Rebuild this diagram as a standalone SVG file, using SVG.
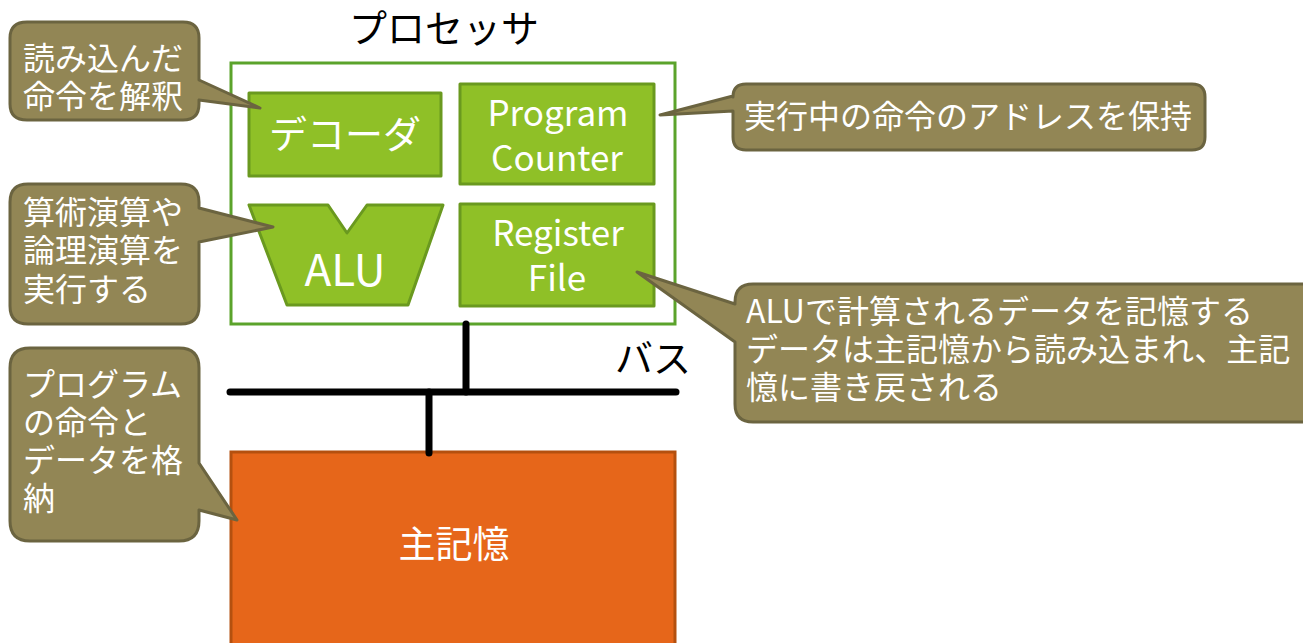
<svg xmlns="http://www.w3.org/2000/svg" width="1303" height="643" viewBox="0 0 1303 643">
<style>
text{font-family:"Noto Sans CJK JP","Noto Sans",sans-serif;}
.unit{fill:#8fc027;stroke:#6a991f;stroke-width:3;stroke-linejoin:round;}
.wt{fill:#ffffff;}
.call{fill:#928655;stroke:#6b6440;stroke-width:3;stroke-linejoin:round;}
.ct{fill:#ffffff;font-size:32px;}
.bus{stroke:#000;stroke-width:7;stroke-linecap:round;fill:none;}
</style>
<rect width="1303" height="643" fill="#ffffff"/>
<g id="processor">
<rect x="231" y="63" width="444" height="261" fill="#ffffff" stroke="#5ba32b" stroke-width="3"/>
<text x="444" y="42" text-anchor="middle" font-size="38" fill="#000">プロセッサ</text>
</g>
<g id="decoder">
<rect class="unit" x="249" y="93" width="192" height="83"/>
<text class="wt" x="345" y="148" text-anchor="middle" font-size="38">デコーダ</text>
</g>
<g id="pc">
<rect class="unit" x="460" y="84" width="194" height="100"/>
<text class="wt" x="558" y="126" text-anchor="middle" font-size="35">Program</text>
<text class="wt" x="557" y="171" text-anchor="middle" font-size="35">Counter</text>
</g>
<g id="alu">
<polygon class="unit" points="249,205 328,205 347,233 367,205 443,205 408,305 287,305"/>
<text class="wt" x="345" y="286" text-anchor="middle" font-size="44">ALU</text>
</g>
<g id="regfile">
<rect class="unit" x="460" y="204" width="194" height="102"/>
<text class="wt" x="558" y="246" text-anchor="middle" font-size="35">Register</text>
<text class="wt" x="557" y="291" text-anchor="middle" font-size="35">File</text>
</g>
<g id="memory">
<rect x="231" y="452" width="444" height="200" fill="#e6661a" stroke="#b4500f" stroke-width="3"/>
<text class="wt" x="454" y="558" text-anchor="middle" font-size="37">主記憶</text>
</g>
<g id="bus-label">
<text x="653" y="372" text-anchor="middle" font-size="38" fill="#000">バス</text>
</g>
<g id="connectors">
<line class="bus" x1="230" y1="392" x2="676" y2="392"/>
<line class="bus" x1="466" y1="392" x2="466" y2="324"/>
<line class="bus" x1="429" y1="392" x2="429" y2="453"/>
</g>
<g id="callout-decoder">
<path class="call" d="M27,22 H183 Q199,22 199,38 V80 L260,108 L199,100 V104 Q199,120 183,120 H27 Q10,120 10,104 V38 Q10,22 27,22 Z"/>
<text class="ct" x="23" y="70">読み込んだ</text>
<text class="ct" x="23" y="108">命令を解釈</text>
</g>
<g id="callout-pc">
<path class="call" d="M746,84 H1192 Q1205,84 1205,97 V137 Q1205,150 1192,150 H746 Q733,150 733,137 V111 L660,115 L733,96 V97 Q733,84 746,84 Z"/>
<text class="ct" x="744" y="128">実行中の命令のアドレスを保持</text>
</g>
<g id="callout-alu">
<path class="call" d="M28,184 H181 Q199,184 199,202 V208 L273,227 L199,242 V306 Q199,324 181,324 H28 Q10,324 10,306 V202 Q10,184 28,184 Z"/>
<text class="ct" x="23" y="224">算術演算や</text>
<text class="ct" x="23" y="262">論理演算を</text>
<text class="ct" x="23" y="301">実行する</text>
</g>
<g id="callout-reg">
<path class="call" d="M753,284 H1310 V422 H753 Q735,422 735,404 V342 L637,272 L735,304 V302 Q735,284 753,284 Z"/>
<text class="ct" x="746" y="323">ALUで計算されるデータを記憶する</text>
<text class="ct" x="746" y="361">データは主記憶から読み込まれ、主記</text>
<text class="ct" x="746" y="399">憶に書き戻される</text>
</g>
<g id="callout-mem">
<path class="call" d="M30,348 H179 Q199,348 199,368 V463 L237,520 L199,510 V521 Q199,541 179,541 H30 Q10,541 10,521 V368 Q10,348 30,348 Z"/>
<text class="ct" x="23" y="396">プログラム</text>
<text class="ct" x="23" y="434">の命令と</text>
<text class="ct" x="23" y="472">データを格</text>
<text class="ct" x="23" y="510">納</text>
</g>
</svg>
